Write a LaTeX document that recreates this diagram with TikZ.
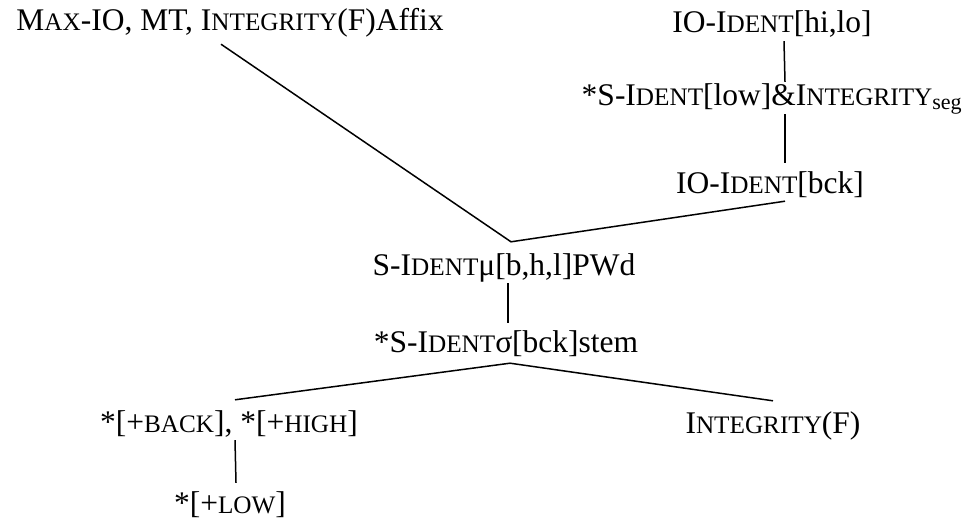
\documentclass[tikz,border=0pt]{standalone}
\usepackage{fontspec}
\setmainfont{Liberation Serif}
\usepackage{graphicx}
\newcommand{\smc}[1]{\scalebox{0.8}{#1}}

\begin{document}
\begin{tikzpicture}[x=1pt,y=-1pt,
  constr/.style={inner sep=2pt, anchor=base, font=\fontsize{31.5}{36}\selectfont, text height=22pt, text depth=6pt},
  link/.style={line width=1.5pt}]
  \path[use as bounding box, fill=white] (0,0) rectangle (967,519);
  % ranking, right branch
  \node[constr] (hilo) at (772,33) {IO-I\smc{DENT}[hi,lo]};
  \node[constr] (lowseg) at (772,106) {*S-I\smc{DENT}[low]\&I\smc{NTEGRITY}\textsubscript{seg}};
  \node[constr] (bck) at (770,193) {IO-I\smc{DENT}[bck]};
  % left branch
  \node[constr] (maxio) at (230,31) {M\smc{AX}-IO, MT, I\smc{NTEGRITY}(F)Affix};
  % middle
  \node[constr] (pwd) at (504,275) {S-I\smc{DENT}μ[b,h,l]PWd};
  \node[constr] (stem) at (506,352) {*S-I\smc{DENT}σ[bck]stem};
  % bottom
  \node[constr] (backhigh) at (229,432) {*[+\smc{BACK}], *[+\smc{HIGH}]};
  \node[constr] (plow) at (230,513) {*[+\smc{LOW}]};
  \node[constr] (integ) at (773,433) {I\smc{NTEGRITY}(F)};
  \coordinate (meet) at ([xshift=7pt,yshift=9pt]pwd.north);
  \coordinate (fork) at ([xshift=4pt,yshift=-3pt]stem.south);
  \draw[link] ([xshift=12pt]hilo.south) -- ([xshift=13pt]lowseg.north);
  \draw[link] ([xshift=13pt]lowseg.south) -- ([xshift=15pt,yshift=6pt]bck.north);
  \draw[link] ([xshift=-9pt,yshift=-5pt]maxio.south) -- (meet) -- ([xshift=15pt]bck.south);
  \draw[link] ([xshift=4pt]pwd.south) -- ([xshift=2pt,yshift=5pt]stem.north);
  \draw[link] ([xshift=6pt,yshift=8pt]backhigh.north) -- (fork) -- ([yshift=8pt]integ.north);
  \draw[link] ([xshift=6pt]backhigh.south) -- ([xshift=6pt,yshift=6pt]plow.north);
\end{tikzpicture}
\end{document}
